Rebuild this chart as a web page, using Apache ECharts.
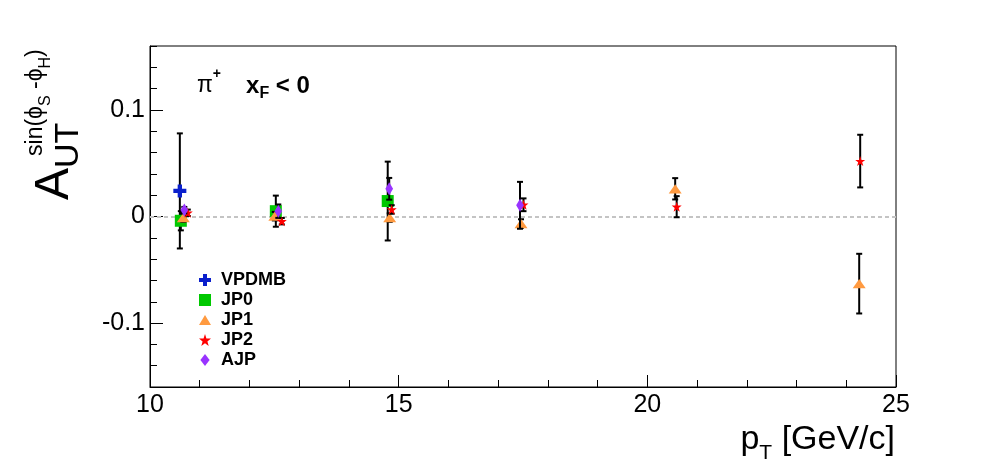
<!DOCTYPE html>
<html><head><meta charset="utf-8">
<script src="https://cdn.jsdelivr.net/npm/echarts@6/dist/echarts.min.js"></script>
<style>html,body{margin:0;padding:0;background:#fff}#c{width:996px;height:472px}</style>
</head><body><div id="c"></div>
<script>
// ---- data ----
const seriesNames = ['VPDMB', 'JP0', 'JP1', 'JP2', 'AJP'];
const xVPDMB = [10.60];
const yVPDMB = [0.024];
const eVPDMB = [0.054];
const xJP0 = [10.62, 12.53, 14.78];
const yJP0 = [-0.004, 0.005, 0.0145];
const eJP0 = [0.009, 0.0146, 0.037];
const xJP1 = [10.67, 12.51, 14.82, 17.46, 20.56, 24.26];
const yJP1 = [-0.001, 0.0003, -0.001, -0.0066, 0.026, -0.063];
const eJP1 = [0.004, 0.004, 0.004, 0.004, 0.010, 0.028];
const xJP2 = [10.76, 12.65, 14.86, 17.51, 20.59, 24.28];
const yJP2 = [0.0035, -0.0044, 0.0066, 0.011, 0.0092, 0.052];
const eJP2 = [0.003, 0.003, 0.004, 0.006, 0.0099, 0.0247];
const xAJP = [10.69, 12.58, 14.81, 17.44];
const yAJP = [0.006, 0.005, 0.026, 0.0105];
const eAJP = [0.003, 0.0063, 0.0102, 0.022];
const xTicks = [10, 15, 20, 25];
const yMajorTicks = [-0.1, 0, 0.1];

// ---- styling ----
const FONT = '"Liberation Sans", Arial, "DejaVu Sans", sans-serif';
const styles = {
  VPDMB: {color: '#0a1fcc', symbol: 'path://M4,0H8V4H12V8H8V12H4V8H0V4H4Z', size: 13},
  JP0: {color: '#00c800', symbol: 'path://M0,0H12V12H0Z', size: 12},
  JP1: {color: '#ff9a40', symbol: 'path://M6.5,0L13,11H0Z', size: [13, 11]},
  JP2: {color: '#ff0000', symbol: 'path://M5,0L6.2,3.8L10,3.8L7,6.2L8.1,10L5,7.7L1.9,10L3,6.2L0,3.8L3.8,3.8Z', size: 10},
  AJP: {color: '#9933ff', symbol: 'path://M5,0L10,6.5L5,13L0,6.5Z', size: [10, 13]}
};
const dataSets = {
  VPDMB: [xVPDMB, yVPDMB, eVPDMB],
  JP0: [xJP0, yJP0, eJP0],
  JP1: [xJP1, yJP1, eJP1],
  JP2: [xJP2, yJP2, eJP2],
  AJP: [xAJP, yAJP, eAJP]
};

function errRender(params, api) {
  const x = api.value(0), y = api.value(1), e = api.value(2);
  const top = api.coord([x, y + e]);
  const bot = api.coord([x, y - e]);
  const hw = 3;
  const st = {stroke: '#000', lineWidth: 2};
  return {type: 'group', children: [
    {type: 'line', shape: {x1: top[0], y1: top[1], x2: bot[0], y2: bot[1]}, style: st},
    {type: 'line', shape: {x1: top[0] - hw, y1: top[1], x2: top[0] + hw, y2: top[1]}, style: st},
    {type: 'line', shape: {x1: bot[0] - hw, y1: bot[1], x2: bot[0] + hw, y2: bot[1]}, style: st}
  ]};
}

const series = [];
seriesNames.forEach((n, i) => {
  const [xs, ys, es] = dataSets[n];
  const d = xs.map((x, k) => [x, ys[k], es[k]]);
  series.push({type: 'custom', name: n + '_err', renderItem: errRender, data: d,
    encode: {x: 0, y: 1}, z: 3 + 2 * i, silent: true, clip: false});
  const s = {type: 'scatter', name: n, data: d.map(p => [p[0], p[1]]),
    symbol: styles[n].symbol, symbolSize: styles[n].size, symbolKeepAspect: true,
    itemStyle: {color: styles[n].color, opacity: 1}, z: 4 + 2 * i, silent: true};
  if (i === 0) {
    s.markLine = {silent: true, symbol: ['none', 'none'], label: {show: false},
      lineStyle: {color: '#c4c4c4', type: [4, 3], width: 2}, data: [{yAxis: 0}], z: 1};
  }
  series.push(s);
});

// ---- text helpers ----
const mctx = document.createElement('canvas').getContext('2d');
function mw(t, size, bold) { mctx.font = (bold ? 'bold ' : '') + size + 'px ' + FONT; return mctx.measureText(t).width; }
function txt(t, size, bold) {
  return {text: t, font: (bold ? 'bold ' : '') + size + 'px ' + FONT, fill: '#000',
    align: 'left', verticalAlign: 'middle', textAlign: 'left', textVerticalAlign: 'middle'};
}
function hText(pieces, x, y) {
  const out = []; let cx = x;
  pieces.forEach(p => {
    cx += (p.dx || 0);
    out.push({type: 'text', x: cx, y: y + (p.dy || 0), z: 100, style: txt(p.t, p.size, p.bold)});
    cx += mw(p.t, p.size, p.bold);
  });
  return out;
}
function hWidth(pieces) { return pieces.reduce((a, p) => a + mw(p.t, p.size, p.bold) + (p.dx || 0), 0); }
function vText(pieces, x, y) {
  const out = []; let cy = y;
  pieces.forEach(p => {
    cy -= (p.pre || 0);
    out.push({type: 'text', x: x + (p.dx || 0), y: cy, rotation: Math.PI / 2, z: 100, style: txt(p.t, p.size, p.bold)});
    if (!p.noAdvance) cy -= mw(p.t, p.size, p.bold);
  });
  return out;
}

const yTitle = [
  {t: 'A', size: 48, dx: 0},
  {t: 'UT', size: 34, dx: 14, noAdvance: true},
  {t: 'sin(\u03D5', size: 23, dx: -19, pre: 12},
  {t: 'S', size: 16, dx: -9},
  {t: ' -\u03D5', size: 23, dx: -19},
  {t: 'H', size: 16, dx: -9},
  {t: ')', size: 23, dx: -19}
];
const xTitle = [
  {t: 'p', size: 34},
  {t: 'T', size: 21, dy: 13},
  {t: ' [GeV/c]', size: 34}
];
const label = [
  {t: '\u03C0', size: 23},
  {t: '+', size: 14, bold: true, dy: -12},
  {t: 'x', size: 24, bold: true, dx: 25},
  {t: 'F', size: 16, bold: true, dy: 8},
  {t: ' < 0', size: 24, bold: true}
];

const graphics = [].concat(
  vText(yTitle, 55, 200),
  hText(xTitle, 895 - hWidth(xTitle), 440),
  hText(label, 197, 86)
);

const option = {
  animation: false,
  backgroundColor: '#fff',
  grid: {left: 150, right: 100, top: 46, bottom: 85, show: true, borderColor: '#000', borderWidth: 1, containLabel: false},
  legend: {
    data: seriesNames, orient: 'vertical', left: 194, top: 266, itemWidth: 12, itemHeight: 12, itemGap: 2,
    textStyle: {fontFamily: FONT, fontWeight: 'bold', fontSize: 18, color: '#000', padding: [0, 0, 0, 5]},
    selectedMode: false
  },
  xAxis: {
    type: 'value', min: 10, max: 25, interval: 5,
    axisLine: {show: true, onZero: false, lineStyle: {color: '#000', width: 1}},
    axisTick: {show: true, inside: true, length: 12, lineStyle: {color: '#000', width: 1}},
    minorTick: {show: true, splitNumber: 5, length: 7, lineStyle: {color: '#000', width: 1}},
    splitLine: {show: false}, minorSplitLine: {show: false},
    axisLabel: {fontFamily: FONT, fontSize: 25, color: '#000', margin: 6,
      customValues: xTicks, formatter: v => String(v)}
  },
  yAxis: [{
    type: 'value', min: -0.16, max: 0.16, interval: 0.02,
    axisLine: {show: true, onZero: false, lineStyle: {color: '#000', width: 1}},
    axisTick: {show: true, inside: true, length: 7, lineStyle: {color: '#000', width: 1}},
    splitLine: {show: false},
    axisLabel: {fontFamily: FONT, fontSize: 25, color: '#000', margin: 5,
      customValues: yMajorTicks,
      formatter: v => String(Math.round(v * 10) / 10)}
  }, {
    type: 'value', min: -0.16, max: 0.16, position: 'left',
    axisLine: {show: false, onZero: false},
    axisTick: {show: true, inside: true, length: 13, customValues: yMajorTicks, lineStyle: {color: '#000', width: 1}},
    splitLine: {show: false},
    axisLabel: {show: false}
  }],
  series: series,
  graphic: graphics
};
const chart = echarts.init(document.getElementById('c'), null, {renderer: 'canvas'});
chart.setOption(option);
</script></body></html>
